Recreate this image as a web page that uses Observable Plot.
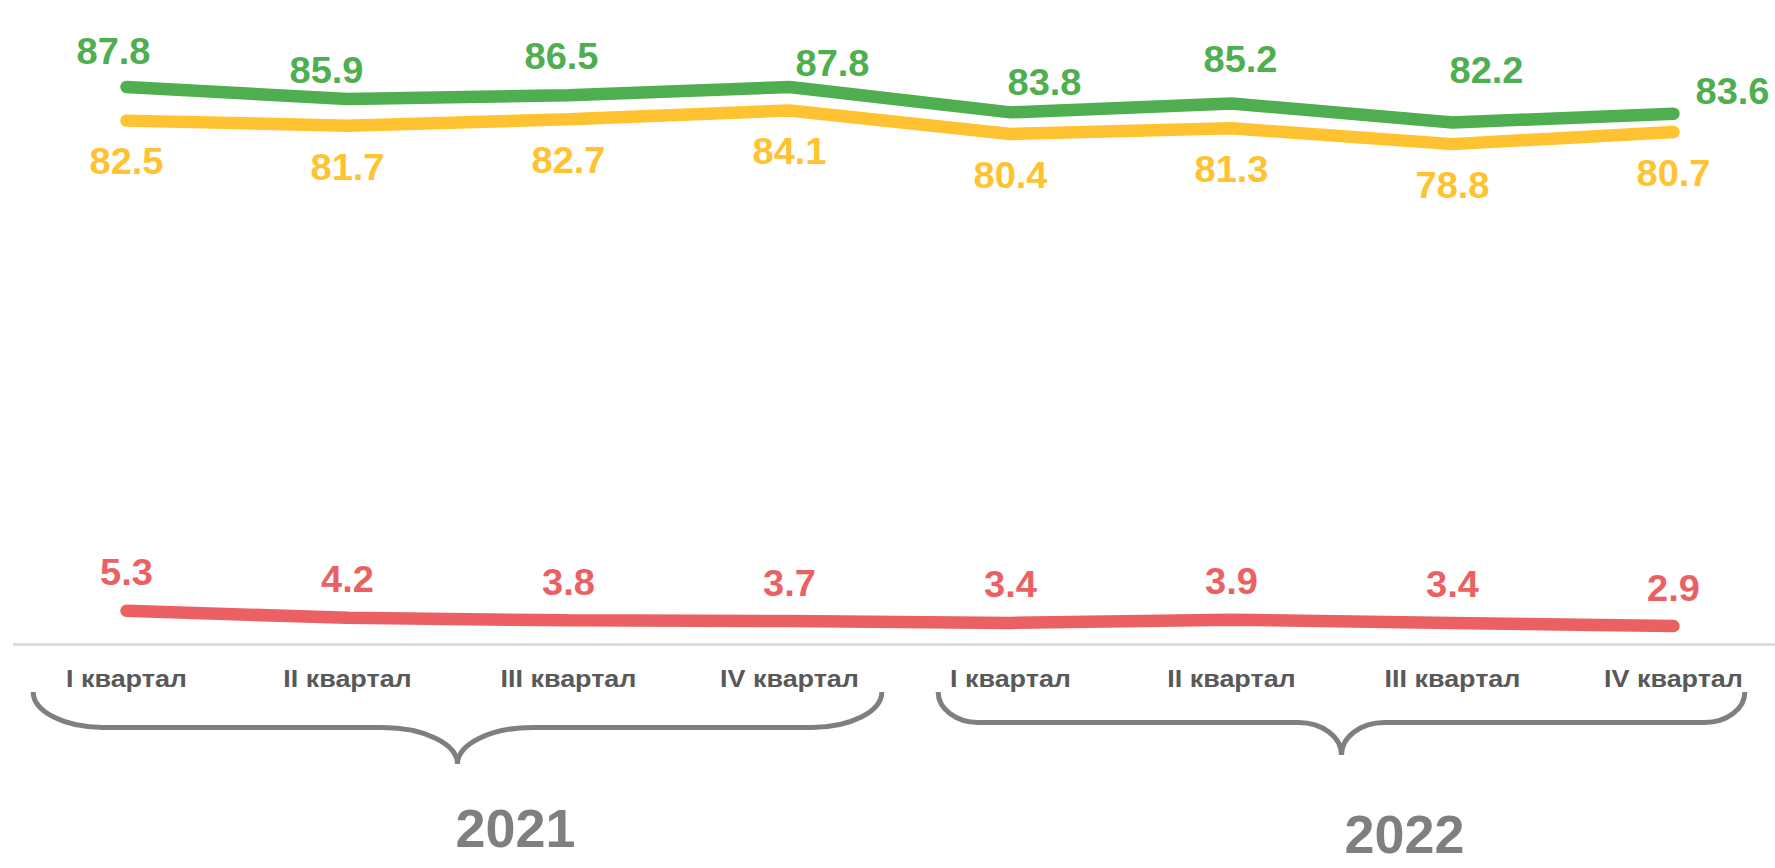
<!DOCTYPE html>
<html>
<head>
<meta charset="utf-8">
<script src="https://cdn.jsdelivr.net/npm/d3@7"></script>
<script src="https://cdn.jsdelivr.net/npm/@observablehq/plot@0.6"></script>
<style>
  html, body { margin: 0; padding: 0; background: #ffffff; }
  #chart svg { display: block; }
</style>
</head>
<body>
<div id="chart"></div>
<script>
// ---------- data ----------
const quarterKeys = ["2021-I", "2021-II", "2021-III", "2021-IV", "2022-I", "2022-II", "2022-III", "2022-IV"];
const tickLabels = ["I квартал", "II квартал", "III квартал", "IV квартал", "I квартал", "II квартал", "III квартал", "IV квартал"];
const years = ["2021", "2022"];
const greenValues = [87.8, 85.9, 86.5, 87.8, 83.8, 85.2, 82.2, 83.6];
const yellowValues = [82.5, 81.7, 82.7, 84.1, 80.4, 81.3, 78.8, 80.7];
const redValues = [5.3, 4.2, 3.8, 3.7, 3.4, 3.9, 3.4, 2.9];

// ---------- styling / layout ----------
const GREEN = "#4EAE50", YELLOW = "#FFC230", RED = "#EB6163";
const FONT = "'Liberation Sans', Arial, Helvetica, sans-serif";
const VALUE_FS = 37, TICK_FS = 23, YEAR_FS = 54;
const greenLabelNudge = [[-13, -35], [-21, -28], [-7, -38], [43, -23], [34, -29], [9, -43], [34, -51], [59, -21]];
const braceSpecs = [
  {from: 0, to: 3, ext: 0.42, top: 48, bar: 83.5, tip: 120, rx: 70, cx: 75, yearDx: 58, yearDy: 184},
  {from: 4, to: 7, ext: 0.325, top: 48, bar: 78.5, tip: 111, rx: 40, cx: 43, yearDx: 63, yearDy: 190}
];

const rows = vals => quarterKeys.map((q, i) => ({q, v: vals[i], i}));
const green = rows(greenValues), yellow = rows(yellowValues), red = rows(redValues);

const lineOpts = c => ({x: "q", y: "v", stroke: c, strokeWidth: 12.5, strokeLinecap: "round", strokeLinejoin: "miter"});
const labelOpts = (c, extra) => ({x: "q", y: "v", text: d => d.v.toFixed(1), fill: c, fontSize: VALUE_FS, fontWeight: "bold", fontFamily: FONT, ...extra});

function braces(index, scales) {
  const x = scales.x, y0 = scales.y(0);
  const g = d3.create("svg:g").attr("aria-label", "year braces");
  const step = x(quarterKeys[1]) - x(quarterKeys[0]);
  braceSpecs.forEach((b, j) => {
    const xf = x(quarterKeys[b.from]), xl = x(quarterKeys[b.to]);
    const a = xf - b.ext * step, e = xl + b.ext * step, m = (xf + xl) / 2;
    const yt = y0 + b.top, yb = y0 + b.bar, yp = y0 + b.tip;
    const ry = yb - yt, ty = yp - yb;
    const d = `M${a},${yt} A${b.rx},${ry} 0 0 0 ${a + b.rx},${yb} L${m - b.cx},${yb} ` +
              `A${b.cx},${ty} 0 0 1 ${m},${yp} A${b.cx},${ty} 0 0 1 ${m + b.cx},${yb} ` +
              `L${e - b.rx},${yb} A${b.rx},${ry} 0 0 0 ${e},${yt}`;
    g.append("path").attr("d", d).attr("fill", "none").attr("stroke", "#7f7f7f").attr("stroke-width", 5);
    g.append("text")
      .attr("x", m + b.yearDx).attr("y", y0 + b.yearDy).attr("dy", "0.36em")
      .attr("text-anchor", "middle").attr("fill", "#7f7f7f")
      .attr("font-size", YEAR_FS).attr("font-weight", "bold").attr("font-family", FONT)
      .text(years[j]);
  });
  return g.node();
}

const chart = Plot.plot({
  width: 1775,
  height: 868,
  marginLeft: 123,
  marginRight: 100,
  marginTop: 9,
  marginBottom: 224,
  style: {fontFamily: FONT, fontSize: TICK_FS + "px", fontWeight: "bold", color: "#595959", background: "#ffffff"},
  x: {type: "point", domain: quarterKeys, padding: 0, tickSize: 0, tickPadding: 26,
      tickFormat: d => tickLabels[quarterKeys.indexOf(d)], label: null},
  y: {domain: [0, 100], axis: null},
  marks: [
    Plot.ruleY([0], {stroke: "#d9d9d9", strokeWidth: 2.5, insetLeft: -110, insetRight: -100}),
    Plot.line(red, lineOpts(RED)),
    Plot.line(yellow, lineOpts(YELLOW)),
    Plot.line(green, lineOpts(GREEN)),
    Plot.text(red, labelOpts(RED, {dy: -37.3})),
    Plot.text(yellow, labelOpts(YELLOW, {dy: 42})),
    ...green.map((d, i) => Plot.text([d], labelOpts(GREEN, {dx: greenLabelNudge[i][0], dy: greenLabelNudge[i][1]}))),
    braces
  ]
});

document.getElementById("chart").append(chart);

// horizontal proportion adjustment of the text groups
const cv = document.createElement("canvas").getContext("2d");
const natural = (str, size) => { cv.font = `bold ${size}px ${FONT}`; return cv.measureText(str).width; };
const stretch = {
  [VALUE_FS]: 74 / natural("87.8", VALUE_FS),
  [TICK_FS]: 121 / natural("I квартал", TICK_FS),
  [YEAR_FS]: 120 / natural("2021", YEAR_FS)
};
const svgRoot = chart.tagName.toLowerCase() === "svg" ? chart : chart.querySelector("svg");
svgRoot.querySelectorAll("text").forEach(t => {
  const fs = Math.round(parseFloat(getComputedStyle(t).fontSize));
  const s = stretch[fs];
  if (!s || !isFinite(s)) return;
  const bb = t.getBBox();
  const c = bb.x + bb.width / 2;
  const tr = t.getAttribute("transform") || "";
  t.setAttribute("transform", `${tr} translate(${c},0) scale(${s},1) translate(${-c},0)`);
});
</script>
</body>
</html>
